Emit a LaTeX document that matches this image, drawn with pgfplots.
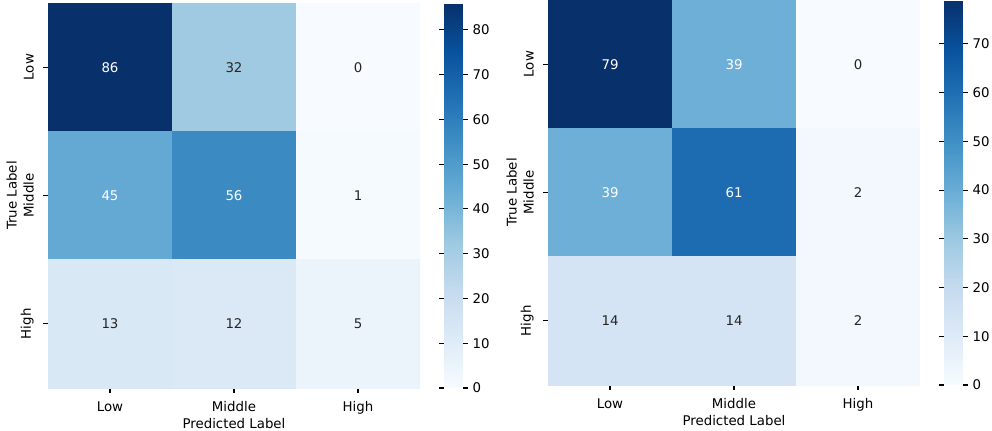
\documentclass[border=0pt]{standalone}
\usepackage{fontspec}
\setmainfont{DejaVu Sans}
\usepackage{pgfplots}
\pgfplotsset{compat=1.18}
\definecolor{annot}{gray}{0.15}
\pgfplotsset{
  colormap={blues}{rgb255=(247,251,255) rgb255=(222,235,247) rgb255=(198,219,239) rgb255=(158,202,225) rgb255=(107,174,214) rgb255=(66,146,198) rgb255=(33,113,181) rgb255=(8,81,156) rgb255=(8,48,107)},
  cm/.style={
    scale only axis, width=279pt, height=288.75pt,
    colormap name=blues,
    xmin=-0.5, xmax=2.5, ymin=-0.5, ymax=2.5, y dir=reverse,
    xtick={0,1,2}, ytick={0,1,2},
    xticklabels={Low,Middle,High}, yticklabels={Low,Middle,High},
    axis line style={draw=none},
    tick align=outside, xtick pos=left, ytick pos=left,
    major tick length=3.5pt,
    tick style={black, line width=0.8pt},
    yticklabel style={rotate=90, anchor=south, inner sep=0pt},
    xticklabel style={anchor=north, inner sep=0pt},
    xticklabel shift=6.5pt, yticklabel shift=7pt,
    xlabel={Predicted Label}, ylabel={True Label},
    every axis x label/.style={at={(axis description cs:0.5,0)}, anchor=base, yshift=-30pt, inner sep=0pt},
    every axis y label/.style={at={(axis description cs:0,0.5)}, rotate=90, anchor=south, yshift=23.25pt, inner sep=0pt},
    point meta min=0,
    colorbar,
    colorbar shift/.style={xshift=18pt},
    colorbar style={at={(parent axis.north east)}, anchor=north west,
      width=14.25pt, height=\pgfkeysvalueof{/pgfplots/parent axis height}, scale only axis,
      axis line style={draw=none}, ytick align=outside, yticklabel pos=right,
      major tick length=3.5pt, tick style={black, line width=0.8pt},
      /pgf/number format/assume math mode=true,
      yticklabel style={inner sep=0pt, anchor=west, xshift=3.5pt}},
  },
  annw/.style={draw=none, mark=none, nodes near coords, point meta=explicit symbolic,
    nodes near coords style={anchor=center, text=white, inner sep=0pt}},
  annd/.style={draw=none, mark=none, nodes near coords, point meta=explicit symbolic,
    nodes near coords style={anchor=center, text=annot, inner sep=0pt}},
}
\begin{document}
\begin{tikzpicture}
\useasboundingbox (0,0) rectangle (744pt,322.5pt);
\begin{axis}[cm, at={(36pt,31.5pt)}, anchor=south west, point meta max=86,
  colorbar style={ytick={0,10,...,80}}]
\addplot[matrix plot*, mesh/cols=3, point meta=explicit] table[meta=c] {
x y c
0 0 86
1 0 32
2 0 0
0 1 45
1 1 56
2 1 1
0 2 13
1 2 12
2 2 5
};
\addplot[annw] table[meta=c] {
x y c
0 0 86
0 1 45
1 1 56
};
\addplot[annd] table[meta=c] {
x y c
1 0 32
2 0 0
2 1 1
0 2 13
1 2 12
2 2 5
};
\end{axis}
\begin{axis}[cm, at={(411pt,33.75pt)}, anchor=south west, point meta max=79,
  colorbar style={ytick={0,10,...,70}}]
\addplot[matrix plot*, mesh/cols=3, point meta=explicit] table[meta=c] {
x y c
0 0 79
1 0 39
2 0 0
0 1 39
1 1 61
2 1 2
0 2 14
1 2 14
2 2 2
};
\addplot[annw] table[meta=c] {
x y c
0 0 79
1 0 39
0 1 39
1 1 61
};
\addplot[annd] table[meta=c] {
x y c
2 0 0
2 1 2
0 2 14
1 2 14
2 2 2
};
\end{axis}
\end{tikzpicture}
\end{document}
